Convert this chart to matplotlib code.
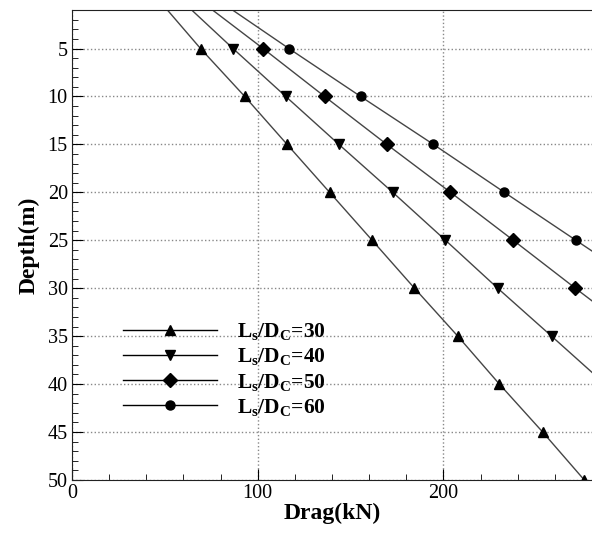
import numpy as np
import matplotlib
matplotlib.use("Agg")
import matplotlib.pyplot as plt
from matplotlib.ticker import MultipleLocator

plt.rcParams['font.family'] = ['Liberation Serif', 'DejaVu Serif']
plt.rcParams['mathtext.fontset'] = 'custom'
plt.rcParams['mathtext.rm'] = 'Liberation Serif'
plt.rcParams['mathtext.bf'] = 'Liberation Serif:bold'
plt.rcParams['mathtext.it'] = 'Liberation Serif:italic'

# depth (m) and drag (kN) for each Ls/Dc ratio
depth = [0, 5, 10, 15, 20, 25, 30, 35, 40, 45, 50]
drag_30 = [47, 69.2, 93.0, 115.8, 138.7, 161.6, 184.4, 207.7, 230.1, 253.4, 275.8]
drag_40 = [59, 86.7, 115.1, 143.7, 172.7, 201.1, 229.2, 258.2, 287, 316, 345]
drag_50 = [69, 102.9, 136.0, 169.5, 203.8, 237.6, 271.0, 305, 339, 373, 407]
drag_60 = [79, 116.8, 155.4, 194.6, 232.8, 271.3, 310, 349, 388, 427, 466]
ratios = [30, 40, 50, 60]
markers = ['^', 'v', 'D', 'o']
msizes = [7, 7, 7, 6.5]

fig = plt.figure(figsize=(5.92, 5.35), dpi=100)
ax = fig.add_axes([0.1216, 0.103, 0.8784, 0.878])

for drag, r, m, ms in zip([drag_30, drag_40, drag_50, drag_60], ratios, markers, msizes):
    ax.plot(drag, depth, color='#454545', lw=1.0, marker=m, ms=ms,
            mfc='black', mec='black',
            label=r'$\mathbf{L_s/D_C}$' + '=%d' % r)

ax.set_xlim(0, 280)
ax.set_ylim(50, 1)
ax.xaxis.set_major_locator(MultipleLocator(100))
ax.xaxis.set_minor_locator(MultipleLocator(20))
ax.yaxis.set_major_locator(MultipleLocator(5))
ax.yaxis.set_minor_locator(MultipleLocator(1))
ax.tick_params(which='both', direction='in', labelsize=14.5, top=False, right=False)
ax.tick_params(which='major', length=8, pad=3)
ax.tick_params(which='minor', length=4)
ax.grid(True, which='major', linestyle=':', color='#888888', lw=1)
ax.spines['right'].set_visible(False)
for s in ['left', 'bottom', 'top']:
    ax.spines[s].set_color('#222222')

ax.set_xlabel('Drag(kN)', fontsize=17, fontweight='bold', labelpad=0)
ax.set_ylabel('Depth(m)', fontsize=17, fontweight='bold', labelpad=6)

leg = ax.legend(loc='center left', bbox_to_anchor=(0.06, 0.235), frameon=False,
                handlelength=4.4, labelspacing=0.2, handletextpad=0.9,
                prop={'weight': 'bold', 'size': 15.5})
for line in leg.get_lines():
    line.set_color('black')

fig.savefig('out.png', dpi=100)
